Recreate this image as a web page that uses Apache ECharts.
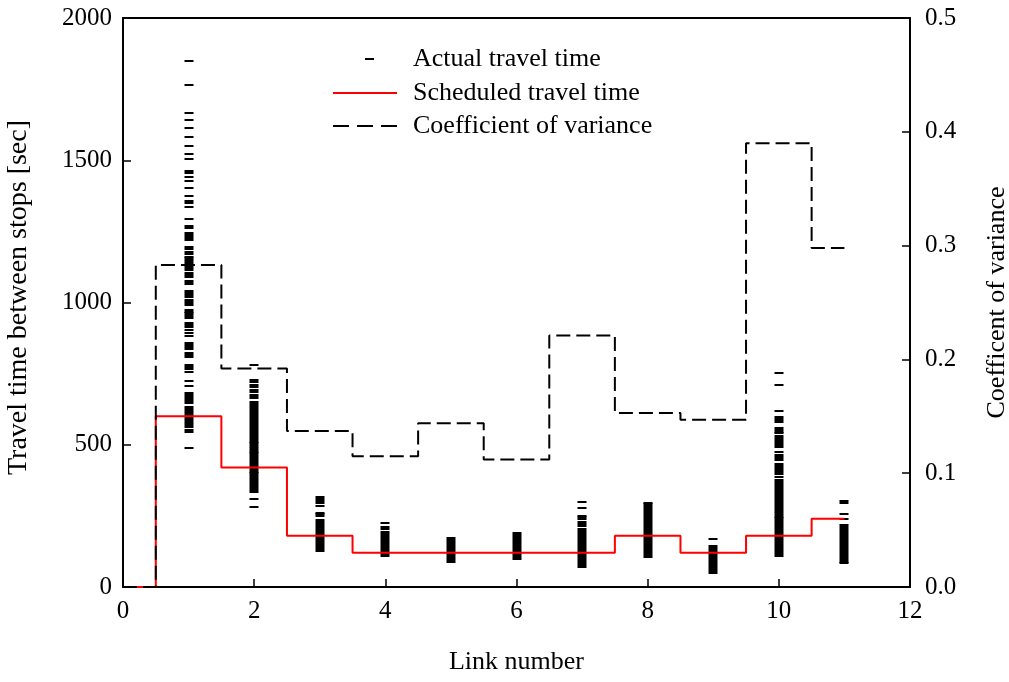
<!DOCTYPE html>
<html>
<head>
<meta charset="utf-8">
<script src="https://cdn.jsdelivr.net/npm/echarts@6/dist/echarts.min.js"></script>
<style>html,body{margin:0;padding:0;background:#fff}#chart{width:1009px;height:682px}</style>
</head>
<body>
<div id="chart"></div>
<script>
// ---- data ----
const links = [1,2,3,4,5,6,7,8,9,10,11];
// isolated observations (sec) per link
const actualMarks = [
  [1849,1765,1665,1640,1614,1583,1550,1521,1505,1463,1454,1442,1428,1404,1375,1358,1349,1337,1292,1270,1261,1220,1194,1187,1178,1170,1161,1103,1097,1091,1042,1035,1026,1018,974,968,929,921,913,903,894,882,857,849,842,837,821,815,807,780,774,766,756,725,707,634,624,617,552,546,488],
  [782,728,720,710,702,692,684,309,282],
  [315,308,302,294,286,261,255,250],
  [224,212,203],
  [171,165],
  [98],
  [300,277,250,245,238,230,221,214],
  [296,290,284,107],
  [170],
  [751,710,619,540,532,473,446,403,396,388],
  [303,294,257,239,83]
];
// ranges where observations merge into solid runs [low, high] (sec)
const actualBands = [
  [[1226,1245],[1114,1155],[1065,1077],[991,1009],[944,962],[648,681],[563,611]],
  [[663,675],[605,651],[552,599],[511,546],[476,505],[435,470],[405,429],[335,400]],
  [[128,235]],
  [[110,194]],
  [[89,159]],
  [[107,191]],
  [[71,203]],
  [[112,277]],
  [[48,144]],
  [[579,599],[546,558],[513,523],[493,505],[452,464],[411,431],[359,376],[323,353],[247,317],[224,241],[200,218],[136,194],[110,130]],
  [[89,218]]
];
const stepLinks = [0,1,2,3,4,5,6,7,8,9,10,11];
const scheduled = [0,600,420,180,120,120,120,120,180,120,180,240];
const covValues = [0,0.283,0.192,0.137,0.115,0.144,0.112,0.221,0.153,0.147,0.390,0.298];
const xTicks = {min:0, max:12, interval:2};
const yLeftTicks = {min:0, max:2000, interval:500};
const yRightTicks = {min:0, max:0.5, interval:0.1};

// ---- build series data ----
const markData = [];
links.forEach((l,i)=>actualMarks[i].forEach(v=>markData.push([l,v])));
const bandData = [];
links.forEach((l,i)=>actualBands[i].forEach(b=>bandData.push([l,b[0],b[1]])));
const schedData = stepLinks.map((l,i)=>[l,scheduled[i]]);
const covData = stepLinks.map((l,i)=>[l,covValues[i]]);

const FONT = "'Liberation Serif','Times New Roman',serif";
function txt(extra){ return Object.assign({fontFamily:FONT, fontSize:25, color:'#000'}, extra||{}); }
function axLine(){ return {show:true, onZero:false, lineStyle:{color:'#000', width:2}}; }
function tick(){ return {show:true, inside:true, length:8, lineStyle:{color:'#000', width:1.5}}; }

const chart = echarts.init(document.getElementById('chart'), null, {renderer:'canvas'});
chart.setOption({
  animation:false,
  backgroundColor:'#fff',
  grid:{left:123, right:99, top:18, bottom:95, containLabel:false, outerBoundsMode:'none'},
  legend:[
    {left:365, top:44, padding:0, itemWidth:9, itemHeight:2, icon:'rect',
     data:['Actual travel time'],
     textStyle:{fontFamily:FONT, fontSize:26, color:'#000', lineHeight:30, padding:[0,0,0,34]}},
    {left:333, top:78, padding:0, itemWidth:64, itemHeight:2, icon:'rect',
     data:['Scheduled travel time'],
     textStyle:{fontFamily:FONT, fontSize:26, color:'#000', lineHeight:30, padding:[0,0,0,11]}},
    {left:333, top:111, padding:0, itemWidth:64, itemHeight:2,
     icon:'path://M0,0h16v2h-16zM24,0h16v2h-16zM48,0h16v2h-16z',
     data:['Coefficient of variance'],
     textStyle:{fontFamily:FONT, fontSize:26, color:'#000', lineHeight:30, padding:[0,0,0,11]}}
  ],
  xAxis:[
    {type:'value', position:'bottom', min:xTicks.min, max:xTicks.max, interval:xTicks.interval,
     axisLine:axLine(), axisTick:tick(), splitLine:{show:false},
     axisLabel:txt({margin:12}),
     name:'Link number', nameLocation:'middle', nameGap:62,
     nameTextStyle:{fontFamily:FONT, fontSize:26, color:'#000'}},
    {type:'value', position:'top', min:xTicks.min, max:xTicks.max, interval:xTicks.interval,
     axisLine:axLine(), axisTick:{show:false}, axisLabel:{show:false}, splitLine:{show:false}}
  ],
  yAxis:[
    {type:'value', position:'left', min:yLeftTicks.min, max:yLeftTicks.max, interval:yLeftTicks.interval,
     axisLine:axLine(), axisTick:tick(), splitLine:{show:false}, minorTick:{show:false},
     axisLabel:txt({margin:11, formatter:v=>String(v)}),
     name:'Travel time between stops [sec]', nameLocation:'middle', nameRotate:90, nameGap:90,
     nameTextStyle:{fontFamily:FONT, fontSize:28, color:'#000', padding:[0,0,0,10]}},
    {type:'value', position:'right', min:yRightTicks.min, max:yRightTicks.max, interval:yRightTicks.interval,
     axisLine:axLine(), axisTick:tick(), splitLine:{show:false}, minorTick:{show:false},
     axisLabel:txt({margin:15, formatter:v=>v.toFixed(1)}),
     name:'Coefficent of variance', nameLocation:'middle', nameRotate:90, nameGap:74,
     nameTextStyle:{fontFamily:FONT, fontSize:26, color:'#000'}}
  ],
  series:[
    {type:'custom', name:'bands', xAxisIndex:0, yAxisIndex:0, z:2, silent:true,
     encode:{x:0, y:[1,2]}, data:bandData,
     renderItem:function(params, api){
       const x = api.value(0);
       const top = api.coord([x, api.value(2)]);
       const bot = api.coord([x, api.value(1)]);
       const y0 = Math.round(top[1]) - 1, y1 = Math.round(bot[1]) + 1;
       return {type:'rect', shape:{x:Math.round(top[0])-4.5, y:y0, width:9, height:y1-y0},
               style:{fill:'#000'}};
     }},
    {type:'custom', name:'Actual travel time', xAxisIndex:0, yAxisIndex:0, z:2, silent:true,
     encode:{x:0, y:1}, data:markData, itemStyle:{color:'#000'},
     renderItem:function(params, api){
       const p = api.coord([api.value(0), api.value(1)]);
       return {type:'rect', shape:{x:Math.round(p[0])-4.5, y:Math.round(p[1])-1, width:9, height:2},
               style:{fill:'#000'}};
     }},
    {type:'line', name:'Scheduled travel time', xAxisIndex:0, yAxisIndex:0, z:3,
     step:'middle', symbol:'none',
     lineStyle:{color:'#ff0000', width:2}, itemStyle:{color:'#ff0000'}, data:schedData},
    {type:'line', name:'Coefficient of variance', xAxisIndex:0, yAxisIndex:1, z:4,
     step:'middle', symbol:'none',
     lineStyle:{color:'#000', width:2, type:[14,6]}, itemStyle:{color:'#000'}, data:covData}
  ]
});
</script>
</body>
</html>
